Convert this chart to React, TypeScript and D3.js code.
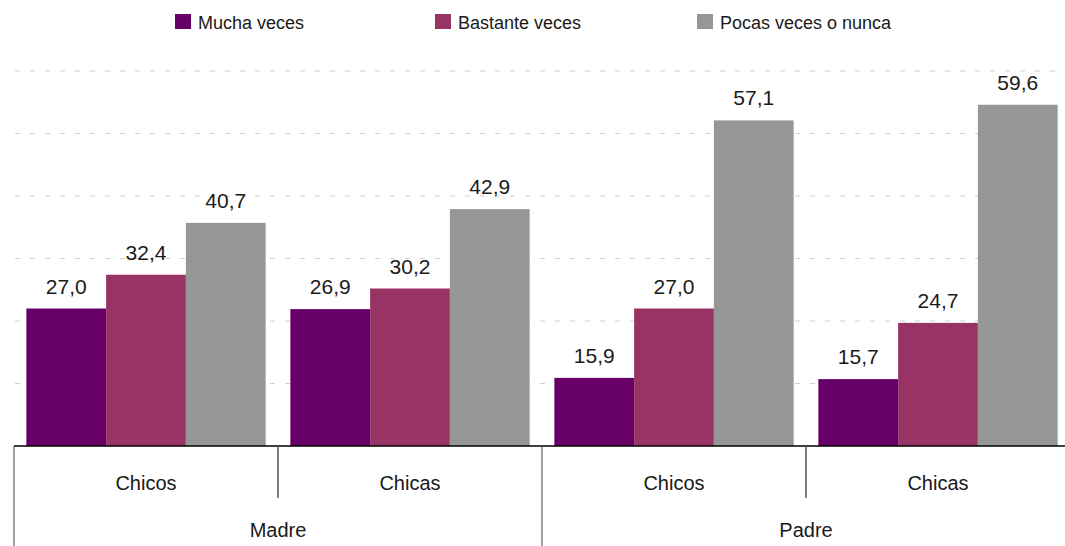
import React from "react";
import * as d3 from "d3";

const subCategories = ["Chicos", "Chicas", "Chicos", "Chicas"];
const parents = ["Madre", "Padre"];
const seriesNames = ["Mucha veces", "Bastante veces", "Pocas veces o nunca"];
const mucha = [27.0, 26.9, 15.9, 15.7];
const bastante = [32.4, 30.2, 27.0, 24.7];
const pocas = [40.7, 42.9, 57.1, 59.6];
const gridTicks = [15, 25, 35, 45, 55, 65];
const colors = ["#660066", "#993366", "#969696"];

const W = 1065;
const H = 546;
const FONT = "'Liberation Sans', Arial, sans-serif";

export default function App() {
  const series = [mucha, bastante, pocas];
  const left = 14;
  const right = 1070;
  const base = 446;
  const top = 71;

  const x0 = d3
    .scaleBand<number>()
    .domain(subCategories.map((_, i) => i))
    .range([left, right])
    .paddingInner(0)
    .paddingOuter(0);
  const x1 = d3
    .scaleBand<number>()
    .domain([0, 1, 2])
    .range([0, x0.bandwidth()])
    .paddingInner(0)
    .paddingOuter(0.155);
  const y = d3.scaleLinear().domain([5, 65]).range([base, top]);
  const fmt = (v: number) => d3.format(".1f")(v).replace(".", ",");

  const parentScale = d3
    .scaleBand<number>()
    .domain([0, 1])
    .range([left, right]);

  const legendX = [175, 435, 697];

  return (
    <svg
      width={W}
      height={H}
      style={{ position: "absolute", left: 0, top: 0, background: "#fff" }}
      fontFamily={FONT}
    >
      <rect x={0} y={0} width={W} height={H} fill="#fff" />
      {/* legend */}
      {seriesNames.map((name, i) => (
        <g key={name}>
          <rect x={legendX[i]} y={14} width={16} height={15} fill={colors[i]} />
          <text x={legendX[i] + 23} y={29} fontSize={18} fill="#1a1a1a">
            {name}
          </text>
        </g>
      ))}
      {/* gridlines */}
      {gridTicks.map((t) => (
        <line
          key={t}
          x1={left + 1}
          x2={W}
          y1={y(t)}
          y2={y(t)}
          stroke="#d0d0d0"
          strokeWidth={1}
          strokeDasharray="5,10"
        />
      ))}
      {/* bars */}
      {subCategories.map((_, ci) =>
        series.map((vals, si) => {
          const bx = (x0(ci) as number) + (x1(si) as number);
          const bw = x1.bandwidth();
          const v = vals[ci];
          return (
            <g key={`${ci}-${si}`}>
              <rect
                x={bx}
                y={y(v)}
                width={bw}
                height={base - y(v)}
                fill={colors[si]}
              />
              <text
                x={bx + bw / 2}
                y={y(v) - 15}
                textAnchor="middle"
                fontSize={21}
                fill="#1a1a1a"
              >
                {fmt(v)}
              </text>
            </g>
          );
        })
      )}
      {/* axis */}
      <line x1={left} x2={W} y1={base} y2={base} stroke="#000" strokeWidth={1.5} />
      {[0, 1, 2].map((k) => {
        const xx = parentScale(k > 1 ? 1 : k) as number;
        const px = k === 2 ? right : xx;
        return null && px;
      })}
      <line x1={left} x2={left} y1={base} y2={H} stroke="#444" strokeWidth={1} />
      <line
        x1={parentScale(1) as number}
        x2={parentScale(1) as number}
        y1={base}
        y2={H}
        stroke="#444"
        strokeWidth={1}
      />
      {[1, 3].map((ci) => (
        <line
          key={ci}
          x1={x0(ci) as number}
          x2={x0(ci) as number}
          y1={base}
          y2={498}
          stroke="#555"
          strokeWidth={1.5}
        />
      ))}
      {subCategories.map((c, ci) => (
        <text
          key={ci}
          x={(x0(ci) as number) + x0.bandwidth() / 2}
          y={490}
          textAnchor="middle"
          fontSize={20}
          fill="#1a1a1a"
        >
          {c}
        </text>
      ))}
      {parents.map((p, pi) => (
        <text
          key={p}
          x={(parentScale(pi) as number) + parentScale.bandwidth() / 2}
          y={537}
          textAnchor="middle"
          fontSize={20}
          fill="#1a1a1a"
        >
          {p}
        </text>
      ))}
    </svg>
  );
}
